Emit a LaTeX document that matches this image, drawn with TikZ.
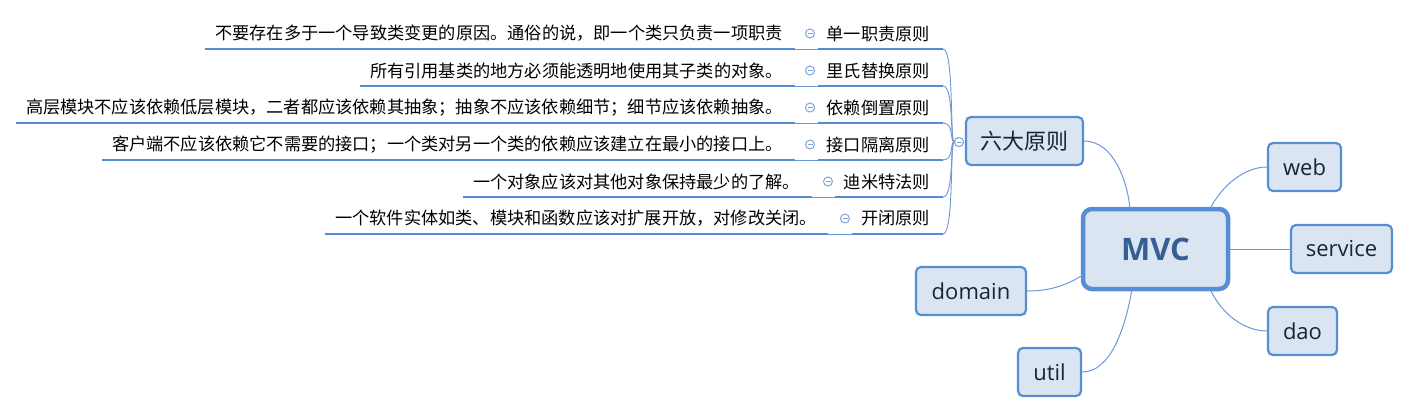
\documentclass[tikz,border=0pt]{standalone}
\usepackage{fontspec}
\setmainfont{Open Sans}
\newfontfamily\cjk{Noto Sans CJK SC}
\usetikzlibrary{calc}
\definecolor{bord}{HTML}{558ED5}
\definecolor{boxfill}{HTML}{DBE5F1}
\definecolor{lnk}{HTML}{6B98D6}
\definecolor{ink}{HTML}{16243C}
\definecolor{mvcink}{HTML}{355E96}
\definecolor{iconc}{HTML}{7FA6DC}
\tikzset{
  box/.style={draw=bord, line width=2.2pt, fill=boxfill, rounded corners=5pt,
    minimum height=48pt, inner sep=0pt, text=ink, font=\fontsize{22}{26}\selectfont},
  mvcbox/.style={box, line width=4.5pt, rounded corners=9pt,
    font=\fontsize{31}{36}\selectfont\bfseries, text=mvcink},
  desc/.style={inner sep=0pt, font=\cjk\fontsize{17.2}{20}\selectfont, text=black},
  uline/.style={draw=bord, line width=2.8pt},
  thinlink/.style={draw=lnk, line width=0.9pt},
  conn/.style={draw=lnk, line width=1pt},
  icon/.style={circle, draw=iconc, fill=white, line width=1pt, minimum size=9pt, inner sep=0pt,
    path picture={\draw[iconc, line width=1pt] ([xshift=-2.5pt]path picture bounding box.center) -- ([xshift=2.5pt]path picture bounding box.center);}}
}
\begin{document}
\begin{tikzpicture}[x=1pt,y=-1pt]
\useasboundingbox (0,0) rectangle (1409,413);

% central and child boxes
\node[mvcbox, minimum width=145pt, minimum height=80pt] (mvc) at (1155.5,249) {MVC};
\node[box, minimum width=117pt, font=\cjk\fontsize{22}{26}\selectfont] (six) at (1024.5,141) {六大原则};
\node[box, minimum width=73pt] (web) at (1304.5,167) {web};
\node[box, minimum width=101pt] (service) at (1341.5,249) {service};
\node[box, minimum width=69pt] (dao) at (1302.5,331) {dao};
\node[box, minimum width=110pt] (domain) at (971,291) {domain};
\node[box, minimum width=63pt] (util) at (1049.5,372) {util};

% connectors from MVC
\coordinate (mvcT1) at (1130,209);
\coordinate (mvcT2) at (1210,209);
\coordinate (mvcB1) at (1132,289);
\coordinate (mvcB2) at (1210,289);
\coordinate (mvcL) at (1083,275);
\draw[conn] (six.east) .. controls (1115,141) and (1128,185) .. (mvcT1);
\draw[conn] (mvcT2) .. controls (1222,185) and (1245,167) .. (web.west);
\draw[conn] (mvc.east) -- (service.west);
\draw[conn] (mvcB2) .. controls (1222,315) and (1245,331) .. (dao.west);
\draw[conn] (mvcL) .. controls (1062,288) and (1045,291) .. (domain.east);
\draw[conn] (mvcB1) .. controls (1125,330) and (1110,372) .. (util.east);

% collapse icon of six principles
\node[icon] (sixicon) at (959,142) {};

% row 1
\node[desc, anchor=east] (d1) at (783,33.5) {不要存在多于一个导致类变更的原因。通俗的说，即一个类只负责一项职责};
\node[desc, anchor=east] (l1) at (930,33.5) {单一职责原则};
\node[icon] (i1) at (810,33.5) {};
\draw[uline] ($(d1.west)+(-10,15.5)$) coordinate (u1a) -- (795,49) coordinate (u1b);
\draw[thinlink] (u1b) -- (818,49) coordinate (v1a);
\draw[uline] (v1a) -- (943,49) coordinate (v1b);
\draw[thinlink] (v1b) .. controls (954,49) and (950,142) .. (sixicon.west);

% row 2
\node[desc, anchor=east] (d2) at (783,70.5) {所有引用基类的地方必须能透明地使用其子类的对象。};
\node[desc, anchor=east] (l2) at (930,70.5) {里氏替换原则};
\node[icon] (i2) at (810,70.5) {};
\draw[uline] ($(d2.west)+(-10,15.5)$) coordinate (u2a) -- (795,86) coordinate (u2b);
\draw[thinlink] (u2b) -- (818,86) coordinate (v2a);
\draw[uline] (v2a) -- (943,86) coordinate (v2b);
\draw[thinlink] (v2b) .. controls (954,86) and (950,142) .. (sixicon.west);

% row 3
\node[desc, anchor=east] (d3) at (783,107.5) {高层模块不应该依赖低层模块，二者都应该依赖其抽象；抽象不应该依赖细节；细节应该依赖抽象。};
\node[desc, anchor=east] (l3) at (930,107.5) {依赖倒置原则};
\node[icon] (i3) at (810,107.5) {};
\draw[uline] ($(d3.west)+(-10,15.5)$) coordinate (u3a) -- (795,123) coordinate (u3b);
\draw[thinlink] (u3b) -- (818,123) coordinate (v3a);
\draw[uline] (v3a) -- (943,123) coordinate (v3b);
\draw[thinlink] (v3b) .. controls (954,123) and (950,142) .. (sixicon.west);

% row 4
\node[desc, anchor=east] (d4) at (783,144.5) {客户端不应该依赖它不需要的接口；一个类对另一个类的依赖应该建立在最小的接口上。};
\node[desc, anchor=east] (l4) at (930,144.5) {接口隔离原则};
\node[icon] (i4) at (810,144.5) {};
\draw[uline] ($(d4.west)+(-10,15.5)$) coordinate (u4a) -- (795,160) coordinate (u4b);
\draw[thinlink] (u4b) -- (818,160) coordinate (v4a);
\draw[uline] (v4a) -- (943,160) coordinate (v4b);
\draw[thinlink] (v4b) .. controls (954,160) and (950,142) .. (sixicon.west);

% row 5
\node[desc, anchor=east] (d5) at (800,181.5) {一个对象应该对其他对象保持最少的了解。};
\node[desc, anchor=east] (l5) at (930,181.5) {迪米特法则};
\node[icon] (i5) at (828,181.5) {};
\draw[uline] ($(d5.west)+(-10,15.5)$) coordinate (u5a) -- (812,197) coordinate (u5b);
\draw[thinlink] (u5b) -- (835,197) coordinate (v5a);
\draw[uline] (v5a) -- (943,197) coordinate (v5b);
\draw[thinlink] (v5b) .. controls (954,197) and (950,142) .. (sixicon.west);

% row 6
\node[desc, anchor=east] (d6) at (817,218.5) {一个软件实体如类、模块和函数应该对扩展开放，对修改关闭。};
\node[desc, anchor=east] (l6) at (930,218.5) {开闭原则};
\node[icon] (i6) at (845,218.5) {};
\draw[uline] ($(d6.west)+(-10,15.5)$) coordinate (u6a) -- (828,234) coordinate (u6b);
\draw[thinlink] (u6b) -- (852,234) coordinate (v6a);
\draw[uline] (v6a) -- (943,234) coordinate (v6b);
\draw[thinlink] (v6b) .. controls (954,234) and (950,142) .. (sixicon.west);

% redraw icon on top
\node[icon] at (sixicon) {};
\end{tikzpicture}
\end{document}
